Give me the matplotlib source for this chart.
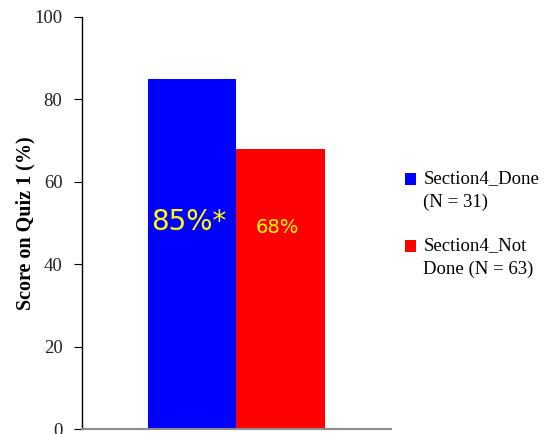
import matplotlib.pyplot as plt
from matplotlib.patches import Patch, Rectangle
from matplotlib.legend_handler import HandlerPatch

groups = ["Section4_Done\n(N = 31)", "Section4_Not\nDone (N = 63)"]
scores = [85, 68]
labels = ["85%*", "68%"]
colors = ["#0000ff", "#ff0000"]
label_sizes = [20, 14]
label_y = [50.2, 49]


def top_square(legend, orig_handle, xdescent, ydescent, width, height, fontsize):
    # put the swatch beside the first line of a two-line label
    return Rectangle((-xdescent, -ydescent + 0.62 * fontsize), width, height)


fig = plt.figure(figsize=(5.46, 4.34), dpi=100)
ax = fig.add_axes([0.150, 0.0115, 0.566, 0.9495])

width = 0.286
offsets = [-width / 2, width / 2]
for off, val, col, txt, fs, ty in zip(offsets, scores, colors, labels,
                                      label_sizes, label_y):
    ax.bar(off, val, width=width, color=col, edgecolor="none")
    ax.text(off - 0.01, ty, txt, ha="center", va="center", color="#ffff00",
            fontsize=fs, family="DejaVu Sans")

ax.set_xlim(-0.5, 0.5)
ax.set_ylim(0, 100)
ax.set_yticks(range(0, 101, 20))
ax.set_xticks([])
ax.tick_params(axis="y", direction="out", length=6, labelsize=13.5, pad=8)
for t in ax.get_yticklabels():
    t.set_family("Liberation Serif")
    t.set_color("#222222")

ax.spines["top"].set_visible(False)
ax.spines["right"].set_visible(False)
ax.spines["bottom"].set_color("#8c8c8c")
ax.spines["bottom"].set_linewidth(1.5)
ax.spines["left"].set_linewidth(1.0)

ax.set_ylabel("Score on Quiz 1 (%)", family="Liberation Serif",
              fontweight="bold", fontsize=14.5, labelpad=-1)

handles = [Patch(facecolor=c, edgecolor="none") for c in colors]
leg = fig.legend(handles, groups, loc="center left",
                 bbox_to_anchor=(0.71, 0.483),
                 frameon=False, handlelength=0.6, handleheight=0.6,
                 handletextpad=0.4, labelspacing=1.4,
                 handler_map={Patch: HandlerPatch(patch_func=top_square)},
                 prop={"family": "Liberation Serif", "size": 13.5})
for t in leg.get_texts():
    t.set_linespacing(1.5)

fig.savefig("out.png", dpi=100)
